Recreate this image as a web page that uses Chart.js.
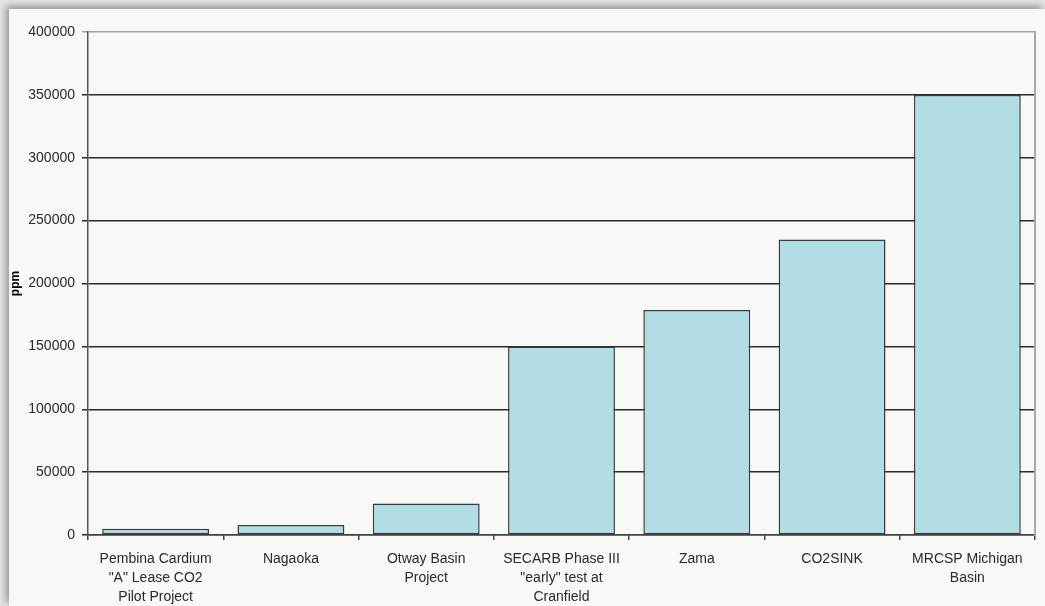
<!DOCTYPE html>
<html>
<head>
<meta charset="utf-8">
<script src="https://cdn.jsdelivr.net/npm/chart.js@4"></script>
<style>
  html, body { margin: 0; padding: 0; width: 1045px; height: 606px; overflow: hidden; background: #e4e4e4; }
  #card { position: absolute; left: 9px; top: 9px; right: 0; bottom: 0; background: #f8f8f6; box-shadow: -3px -3px 7px rgba(0,0,0,0.35); }
  #chart { position: absolute; left: 0; top: 0; }
</style>
</head>
<body>
<div id="card"></div>
<canvas id="chart" width="1045" height="606"></canvas>
<script>
const categories = [
  ["Pembina Cardium", "\"A\" Lease CO2", "Pilot Project"],
  "Nagaoka",
  ["Otway Basin", "Project"],
  ["SECARB Phase III", "\"early\" test at", "Cranfield"],
  "Zama",
  "CO2SINK",
  ["MRCSP Michigan", "Basin"]
];
const ppmValues = [5000, 8000, 25000, 150000, 179000, 235000, 350000];
const yTicks = { min: 0, max: 400000, step: 50000 };

const font = { family: "'Liberation Sans', Arial, sans-serif", size: 14 };

new Chart(document.querySelector("#chart"), {
  type: "bar",
  data: {
    labels: categories,
    datasets: [{
      data: ppmValues,
      backgroundColor: "#b1dde5",
      borderColor: "#3a3a3a",
      borderWidth: 1.5,
      borderSkipped: false,
      barPercentage: 0.79,
      categoryPercentage: 1
    }]
  },
  options: {
    responsive: false,
    animation: false,
    layout: { padding: { left: 8, top: 32, right: 10, bottom: 0 } },
    plugins: { legend: { display: false }, tooltip: { enabled: false } },
    scales: {
      x: {
        offset: true,
        grid: { offset: true, drawOnChartArea: false, drawTicks: true, tickLength: 5, color: "#444", lineWidth: 1.5 },
        border: { color: "#444", width: 1.5 },
        ticks: { color: "#2a2a2a", font: { ...font, lineHeight: 1.36 }, padding: 10, maxRotation: 0, autoSkip: false },
        afterFit: (scale) => { scale.height = 71; }
      },
      y: {
        min: yTicks.min,
        max: yTicks.max,
        grid: {
          color: (ctx) => ctx.tick && ctx.tick.value === yTicks.max ? "#a0a0a0" : "#2a2a2a",
          lineWidth: 1.5,
          tickLength: 6
        },
        border: { color: "#555", width: 1.5 },
        ticks: { stepSize: yTicks.step, color: "#2a2a2a", font, padding: 7, callback: (value) => String(value) },
        title: { display: true, text: "ppm", color: "#000", font: { family: "'Liberation Sans', Arial, sans-serif", size: 12, weight: "bold" }, padding: 0 },
        afterFit: (scale) => { scale.width = 80; }
      },
      right: {
        position: "right",
        min: yTicks.min,
        max: yTicks.max,
        grid: { drawOnChartArea: false, drawTicks: false },
        border: { color: "#a8a8a8", width: 2 },
        ticks: { display: false },
        afterFit: (scale) => { scale.width = 0; }
      }
    }
  }
});
</script>
</body>
</html>
